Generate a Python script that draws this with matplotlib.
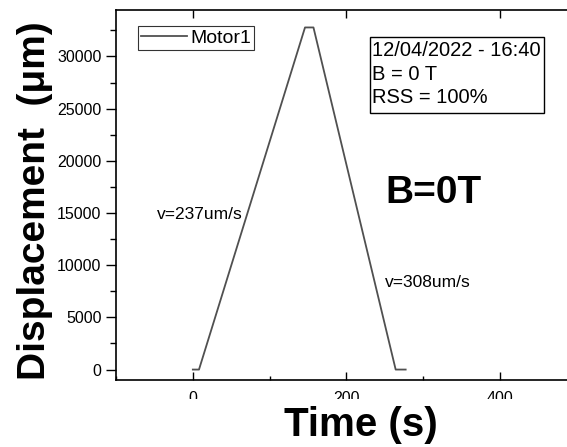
import matplotlib
matplotlib.use("Agg")
import matplotlib.pyplot as plt
from matplotlib.patches import Rectangle
from matplotlib.ticker import MultipleLocator

plt.rcParams['font.family'] = ['Liberation Sans', 'DejaVu Sans']

# Données
temps = [0, 8, 146, 157, 264, 277]
deplacement = [0, 0, 32780, 32780, 0, 0]
serie = "Motor1"
infos = "12/04/2022 - 16:40\nB = 0 T\nRSS = 100%"
vitesse_montee = "v=237um/s"
vitesse_descente = "v=308um/s"
titre_champ = "B=0T"

W, H = 567, 447
fig = plt.figure(figsize=(W / 100, H / 100), dpi=100)
ax = fig.add_axes([116 / W, 1 - 380 / H, (577 - 116) / W, (380 - 9.5) / H])

ax.plot(temps, deplacement, color='#505050', lw=1.3, label=serie)

ax.set_xlim(-100, 500)
ax.set_ylim(-1000, 34500)
ax.xaxis.set_major_locator(MultipleLocator(200))
ax.xaxis.set_minor_locator(MultipleLocator(100))
ax.yaxis.set_major_locator(MultipleLocator(5000))
ax.yaxis.set_minor_locator(MultipleLocator(2500))

ax.tick_params(axis='x', which='both', direction='in', top=True, labelsize=11.5, pad=8)
ax.tick_params(axis='x', which='major', length=6, width=1)
ax.tick_params(axis='x', which='minor', length=3, width=1, top=False)
ax.tick_params(axis='y', which='major', direction='out', length=7, width=1, labelsize=11.5)
ax.tick_params(axis='y', which='minor', direction='out', length=4, width=1)
for s in ax.spines.values():
    s.set_linewidth(1.2)

leg = ax.legend(loc='upper left', bbox_to_anchor=(0.047, 0.955), fontsize=14,
                frameon=True, fancybox=False, edgecolor='black', handlelength=2.4,
                borderpad=0.15, handletextpad=0.15, borderaxespad=0)
leg.get_frame().set_linewidth(0.8)

# encadré d'informations
fig.text(372 / W, 1 - 41 / H, infos, fontsize=14.5, va='top', ha='left', linespacing=1.3)
fig.patches.append(Rectangle((370 / W, 1 - 113 / H), 174 / W, 76 / H, transform=fig.transFigure,
                             fill=False, edgecolor='black', lw=1, zorder=3))

ax.text(-47, 14900, vitesse_montee, fontsize=12.5, ha='left', va='center')
ax.text(250, 8300, vitesse_descente, fontsize=12.5, ha='left', va='center')
ax.text(433 / W, 1 - 193 / H, titre_champ, transform=fig.transFigure, fontsize=28,
        fontweight='bold', ha='center', va='center')

# cache le bas des étiquettes de l'axe x
fig.patches.append(Rectangle((0, 0), 1, (H - 399) / H, transform=fig.transFigure,
                             facecolor='white', edgecolor='none', zorder=5))
fig.text(361 / W, 1 - 425 / H, "Time (s)", fontsize=29, fontweight='bold',
         ha='center', va='center', zorder=6)
fig.text(35 / W, 1 - 201 / H, "Displacement  (\u03bcm)", fontsize=28, fontweight='bold',
         ha='center', va='center', rotation=90, zorder=6)

fig.savefig("out.png", dpi=100)
